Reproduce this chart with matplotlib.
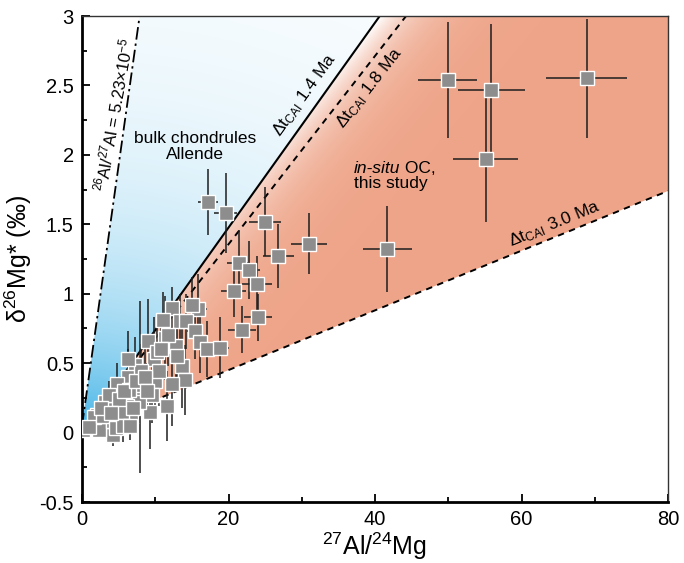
import numpy as np
import matplotlib
matplotlib.use("Agg")
import matplotlib.pyplot as plt
from matplotlib.patches import Polygon
from matplotlib.ticker import MultipleLocator, FuncFormatter

plt.rcParams['font.family'] = ['Liberation Sans', 'DejaVu Sans']
plt.rcParams['mathtext.fontset'] = 'custom'
plt.rcParams['mathtext.rm'] = 'Liberation Sans'
plt.rcParams['mathtext.it'] = 'Liberation Sans:italic'

# in-situ chondrule analyses: 27Al/24Mg, delta26Mg* and 2-sigma errors
al_mg = [49.9, 55.9, 68.9, 55.1, 17.2, 19.6, 25.0, 31.0, 41.7, 26.8, 21.4, 22.8,
         23.9, 20.7, 24.0, 21.8,
         12.3, 15.8, 15.0, 13.4, 11.0, 14.2, 11.3, 15.4, 16.1, 17.1, 18.8, 12.8,
         9.0, 9.8, 13.7, 14.1, 12.3, 10.0, 10.5, 7.2, 6.3, 7.0, 4.8, 7.9,
         11.6, 9.3, 7.1, 9.5, 7.8, 6.1, 3.2, 4.0, 6.7, 5.2, 2.0, 3.4,
         4.3, 2.3, 0.1, 1.6, 4.3, 5.4, 6.4, 8.0, 6.3,
         1.0, 2.8, 3.7, 5.0, 5.8, 6.9, 7.4, 8.6, 10.2, 11.8, 2.6, 4.6,
         5.6, 8.9, 10.8, 13.0, 6.6, 3.9]
al_mg_err = [4.0, 4.6, 5.5, 4.4, 1.4, 1.6, 2.2, 2.5, 3.3, 2.1, 1.6, 1.5,
             2.0, 1.7, 1.9, 1.9,
             1.0, 1.2, 1.0, 1.0, 0.8, 1.0, 0.8, 1.1, 1.0, 1.0, 1.2, 0.9,
             0.8, 0.8, 0.9, 0.9, 0.8, 0.7, 0.7, 0.6, 0.6, 0.5, 0.4, 0.6,
             0.8, 0.7, 0.5, 0.7, 0.5, 0.5, 0.3, 0.3, 0.5, 0.4, 0.2, 0.3,
             0.3, 0.2, 0.1, 0.2, 0.3, 0.4, 0.5, 0.6, 0.5,
             0.1, 0.2, 0.3, 0.4, 0.4, 0.5, 0.5, 0.6, 0.7, 0.8, 0.2, 0.3,
             0.4, 0.6, 0.7, 0.9, 0.5, 0.3]
d26mg = [2.54, 2.47, 2.55, 1.97, 1.66, 1.58, 1.52, 1.36, 1.32, 1.27, 1.22, 1.17,
         1.07, 1.02, 0.83, 0.74,
         0.90, 0.89, 0.92, 0.80, 0.81, 0.80, 0.68, 0.73, 0.65, 0.60, 0.61, 0.62,
         0.66, 0.53, 0.48, 0.38, 0.35, 0.37, 0.44, 0.49, 0.40, 0.31, 0.35, 0.33,
         0.19, 0.15, 0.24, 0.27, 0.22, 0.19, 0.22, 0.17, 0.12, 0.09, 0.13, 0.06,
         -0.02, 0.02, 0.02, 0.11, 0.08, 0.15, 0.31, 0.44, 0.53,
         0.04, 0.12, 0.27, 0.24, 0.30, 0.18, 0.37, 0.40, 0.58, 0.70, 0.18, 0.03,
         0.05, 0.30, 0.60, 0.55, 0.05, 0.14]
d26mg_err = [0.42, 0.47, 0.43, 0.45, 0.24, 0.29, 0.25, 0.22, 0.31, 0.23, 0.24, 0.21,
             0.20, 0.19, 0.17, 0.17,
             0.15, 0.25, 0.20, 0.20, 0.20, 0.20, 0.30, 0.20, 0.22, 0.20, 0.22, 0.25,
             0.30, 0.30, 0.30, 0.25, 0.30, 0.25, 0.25, 0.20, 0.20, 0.20, 0.15, 0.62,
             0.25, 0.27, 0.15, 0.20, 0.15, 0.12, 0.10, 0.10, 0.12, 0.10, 0.08, 0.08,
             0.08, 0.06, 0.05, 0.06, 0.08, 0.10, 0.15, 0.20, 0.20,
             0.05, 0.08, 0.10, 0.12, 0.12, 0.12, 0.15, 0.20, 0.25, 0.22, 0.08, 0.10,
             0.12, 0.20, 0.25, 0.25, 0.10, 0.08]

# isochron reference lines: slope, intercept
canonical = (0.375, 0.05)
dt_14 = (0.0738, 0.0)
dt_18 = (0.0678, 0.0)
dt_30 = (0.0215, 0.02)

xmin, xmax, ymin, ymax = 0, 80, -0.5, 3

fig = plt.figure(figsize=(6.84, 5.63), dpi=100)
ax = fig.add_axes([82 / 684, 61 / 563, 586 / 684, 486 / 563])
ax.set_xlim(xmin, xmax)
ax.set_ylim(ymin, ymax)

# pixel scale of the axes, for gradients and label angles
sx = 586 / (xmax - xmin)
sy = 486 / (ymax - ymin)


def line_y(p, x):
    return p[0] * np.asarray(x) + p[1]


def line_x(p, y):
    return (y - p[1]) / p[0]


def angle(p):
    return np.degrees(np.arctan(p[0] * sy / sx))


# gradient fills
gx = np.linspace(xmin, xmax, 500)
gy = np.linspace(ymin, ymax, 400)
GX, GY = np.meshgrid(gx, gy)
PX = (GX - xmin) * sx
PY = (ymax - GY) * sy
white = np.array([1.0, 1.0, 1.0])

blue = np.array([0x3f, 0xb2, 0xe6]) / 255
d = np.hypot(PX * 0.8, PY - (ymax - 0) * sy)
tb = np.exp(-d / 150)[..., None]
img_blue = white * (1 - tb) + blue * tb

salmon = np.array([0xee, 0xa4, 0x88]) / 255
x_top = line_x(dt_14, ymax)
s = (PX - x_top * sx) * 0.766 + PY * 0.643
tr = (1 - np.exp(-np.clip(s, 0, None) / 28))[..., None]
img_red = white * (1 - tr) + salmon * tr

blue_poly = Polygon([(0, canonical[1]), (line_x(canonical, ymax), ymax),
                     (x_top, ymax), (0, dt_14[1])],
                    closed=True, fc='none', ec='none')
red_poly = Polygon([(1, line_y(dt_14, 1)), (x_top, ymax), (xmax, ymax),
                    (xmax, line_y(dt_30, xmax)), (1, line_y(dt_30, 1))],
                   closed=True, fc='none', ec='none')
for img, poly in [(img_blue, blue_poly), (img_red, red_poly)]:
    ax.add_patch(poly)
    im = ax.imshow(img, extent=[xmin, xmax, ymin, ymax], origin='lower',
                   aspect='auto', interpolation='bilinear', zorder=0)
    im.set_clip_path(poly)

# reference lines
xc = np.array([0, line_x(canonical, ymax)])
ax.plot(xc, line_y(canonical, xc), color='black', lw=1.3,
        ls=(0, (7, 2.2, 1.3, 2.2)), zorder=2)
x14 = np.array([0, line_x(dt_14, ymax)])
ax.plot(x14, line_y(dt_14, x14), color='black', lw=1.5, zorder=2)
x18 = np.array([3, line_x(dt_18, ymax)])
ax.plot(x18, line_y(dt_18, x18), color='black', lw=1.4,
        ls=(0, (3.3, 2.8)), zorder=2)
x30 = np.array([11, xmax])
ax.plot(x30, line_y(dt_30, x30), color='black', lw=1.4,
        ls=(0, (3.3, 2.8)), zorder=2)

# data
ax.errorbar(al_mg, d26mg, xerr=al_mg_err, yerr=d26mg_err, fmt='none',
            ecolor='#1e1e1e', elinewidth=1.1, capsize=0, zorder=3)
ax.plot(al_mg, d26mg, ls='none', marker='s', ms=10.3, mfc='#8d8d8d',
        mec='white', mew=1.0, zorder=4)

# labels on the plot
ax.text(4.4, 2.29, r'$^{26}$Al/$^{27}$Al = 5.23×10$^{-5}$', fontsize=12,
        rotation=80, ha='center', va='center', rotation_mode='anchor', zorder=5)
ax.text(15.4, 2.06, 'bulk chondrules\nAllende', fontsize=12.5, ha='center',
        va='center', linespacing=1.05, zorder=5)
t1 = ax.text(37.1, 1.85, 'in-situ', fontsize=12.5, style='italic',
             ha='left', va='bottom', zorder=5)
ax.annotate(' OC,', xy=(1, 0), xycoords=t1, fontsize=12.5, ha='left',
            va='bottom', zorder=5)
ax.text(37.1, 1.85, 'this study', fontsize=12.5, ha='left', va='top', zorder=5)
ax.text(30.4, 2.43, 'Δt$_{\\mathrm{CAI}}$ 1.4 Ma', fontsize=12.5,
        rotation=angle(dt_14), ha='center', va='center',
        rotation_mode='anchor', zorder=5)
ax.text(39.3, 2.48, 'Δt$_{\\mathrm{CAI}}$ 1.8 Ma', fontsize=12.5,
        rotation=angle(dt_18), ha='center', va='center',
        rotation_mode='anchor', zorder=5)
ax.text(64.5, 1.50, 'Δt$_{\\mathrm{CAI}}$ 3.0 Ma', fontsize=12.5,
        rotation=angle(dt_30), ha='center', va='center',
        rotation_mode='anchor', zorder=5)

# axes styling
ax.xaxis.set_major_locator(MultipleLocator(20))
ax.xaxis.set_minor_locator(MultipleLocator(10))
ax.yaxis.set_major_locator(MultipleLocator(0.5))
ax.yaxis.set_minor_locator(MultipleLocator(0.25))
fmt = FuncFormatter(lambda v, pos: f'{v:g}')
ax.xaxis.set_major_formatter(fmt)
ax.yaxis.set_major_formatter(fmt)
ax.tick_params(which='both', direction='in', top=False, right=False,
               labelsize=14.5, width=1.3, color='black')
ax.tick_params(which='major', length=6, pad=6)
ax.tick_params(which='minor', length=3.5)
for side in ['left', 'bottom']:
    ax.spines[side].set_linewidth(2.0)
for side in ['top', 'right']:
    ax.spines[side].set_linewidth(1.0)
    ax.spines[side].set_color('#333333')

ax.set_xlabel(r'$^{27}$Al/$^{24}$Mg', fontsize=18, labelpad=1)
ax.set_ylabel(r'δ$^{26}$Mg* (‰)', fontsize=18, labelpad=4)

fig.savefig('out.png', dpi=100)
